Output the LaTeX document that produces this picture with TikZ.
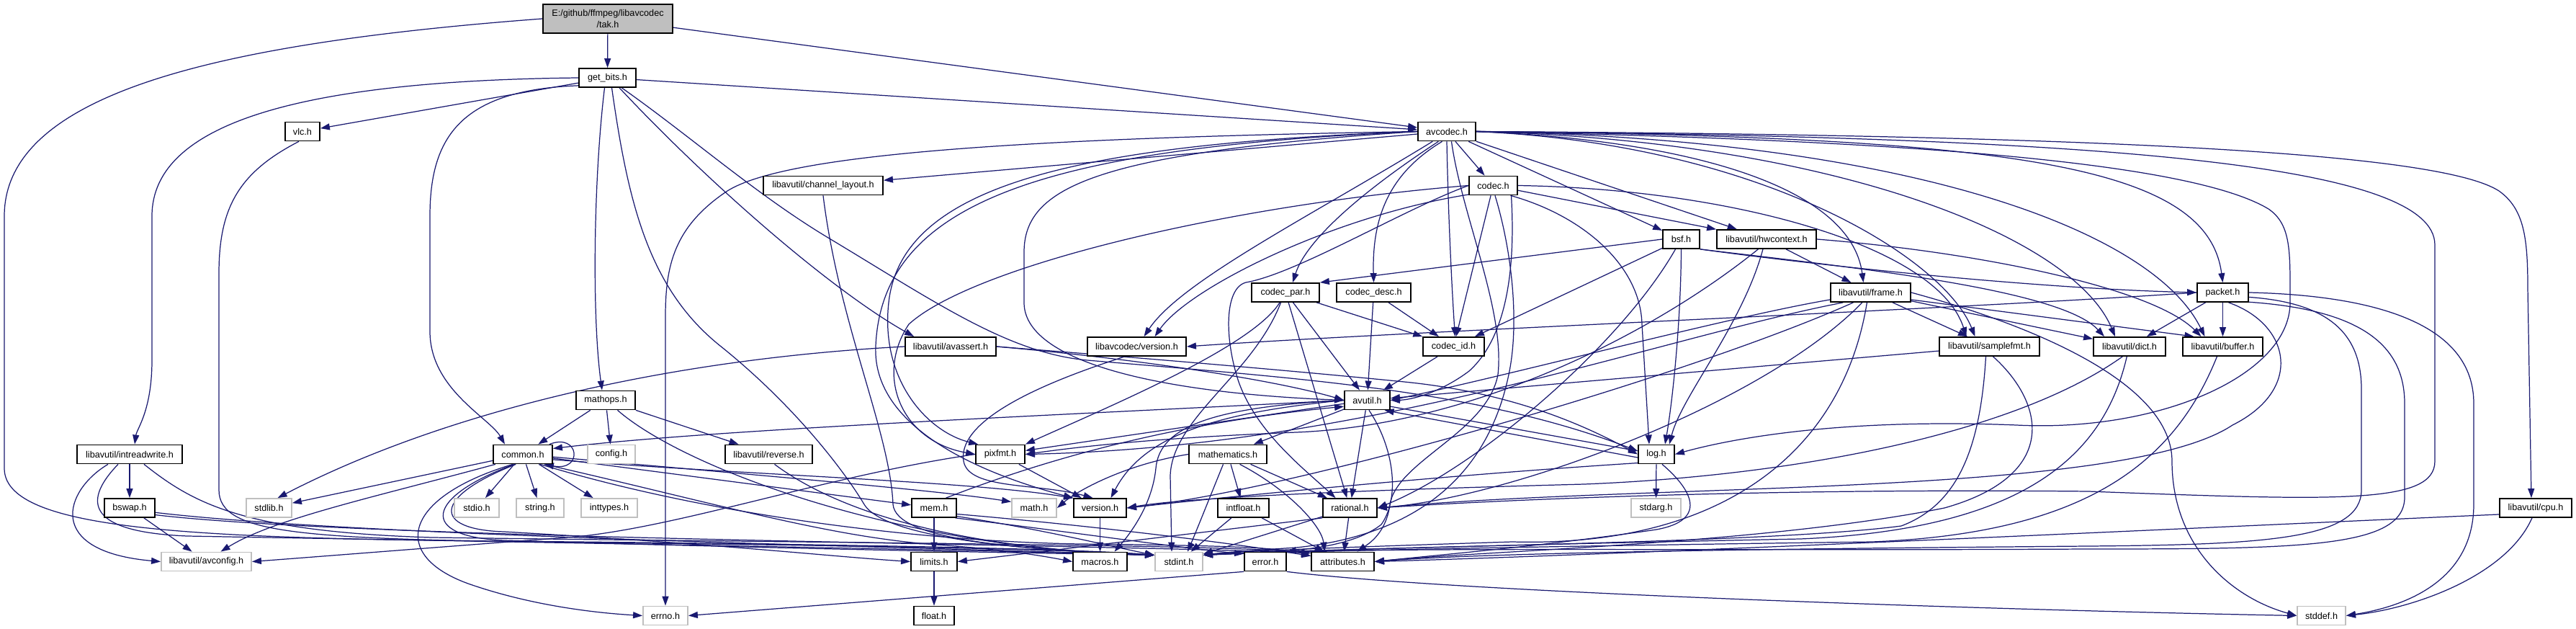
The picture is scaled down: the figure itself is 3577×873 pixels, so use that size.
\documentclass[tikz,border=0pt]{standalone}
\usepackage{fontspec}
\setmainfont{Liberation Sans}
\usetikzlibrary{arrows.meta}
\definecolor{edgeblue}{HTML}{191970}
\definecolor{extgray}{HTML}{BFBFBF}
\newcommand\nodefont{\fontsize{3.6pt}{4.3pt}\selectfont}
\pgfdeclarelayer{bglayer}
\pgfdeclarelayer{edgelayer}
\pgfsetlayers{bglayer,edgelayer,main}
\begin{document}
\begin{tikzpicture}[x=0.01cm,y=-0.01cm,
  hdr/.style={draw=black,line width=0.5pt,fill=white,minimum height=0.26cm,inner sep=0pt,font=\nodefont},
  sys/.style={draw=extgray,line width=0.5pt,fill=white,minimum height=0.26cm,inner sep=0pt,font=\nodefont},
  arr/.style={draw=edgeblue,line width=0.35pt,-{Triangle[length=0.13cm,width=0.09cm]}}]
\begin{pgfonlayer}{bglayer}
\fill[white] (0,0) rectangle (3577,873);
\end{pgfonlayer}
\useasboundingbox (0,0) rectangle (3577,873);

% ---------------- nodes ----------------
\node[hdr,fill=extgray,minimum width=1.8cm,minimum height=0.40cm,align=center] (tak) at (844,26) {E:/github/ffmpeg/libavcodec\\/tak.h};
\node[hdr,minimum width=0.79cm] (getbits) at (843.5,108) {get\_bits.h};
\node[hdr,minimum width=0.48cm] (vlc) at (420,182.5) {vlc.h};
\node[hdr,minimum width=0.80cm] (avcodec) at (2009,182.5) {avcodec.h};
\node[hdr,minimum width=1.66cm] (chlayout) at (1143,257.5) {libavutil/channel\_layout.h};
\node[hdr,minimum width=0.67cm] (codec) at (2073.5,257.5) {codec.h};
\node[hdr,minimum width=0.51cm] (bsf) at (2334.5,332) {bsf.h};
\node[hdr,minimum width=1.38cm] (hwctx) at (2453,332) {libavutil/hwcontext.h};
\node[hdr,minimum width=0.94cm] (codecpar) at (1785,406) {codec\_par.h};
\node[hdr,minimum width=1.03cm] (codecdesc) at (1907.5,406) {codec\_desc.h};
\node[hdr,minimum width=1.11cm] (frame) at (2597.5,406) {libavutil/frame.h};
\node[hdr,minimum width=0.71cm] (packet) at (3086.5,406) {packet.h};
\node[hdr,minimum width=1.26cm] (avassert) at (1320,481) {libavutil/avassert.h};
\node[hdr,minimum width=1.37cm] (lavcver) at (1578.5,481) {libavcodec/version.h};
\node[hdr,minimum width=0.85cm] (codecid) at (2018.5,481) {codec\_id.h};
\node[hdr,minimum width=1.39cm] (samplefmt) at (2762.5,481) {libavutil/samplefmt.h};
\node[hdr,minimum width=1.00cm] (dict) at (2957,481) {libavutil/dict.h};
\node[hdr,minimum width=1.11cm] (buffer) at (3086.5,481) {libavutil/buffer.h};
\node[hdr,minimum width=0.82cm] (mathops) at (841,555.5) {mathops.h};
\node[hdr,minimum width=0.63cm] (avutil) at (1898.5,555.5) {avutil.h};
\node[hdr,minimum width=1.46cm] (intrw) at (180,630.5) {libavutil/intreadwrite.h};
\node[hdr,minimum width=0.82cm] (common) at (726,630.5) {common.h};
\node[sys,minimum width=0.66cm] (config) at (849,630.5) {config.h};
\node[hdr,minimum width=1.21cm] (reverse) at (1067.5,630.5) {libavutil/reverse.h};
\node[hdr,minimum width=0.68cm] (pixfmt) at (1389,630.5) {pixfmt.h};
\node[hdr,minimum width=1.08cm] (mathematics) at (1705,630.5) {mathematics.h};
\node[hdr,minimum width=0.50cm] (logh) at (2300,630.5) {log.h};
\node[hdr,minimum width=0.70cm] (bswap) at (180,705) {bswap.h};
\node[sys,minimum width=0.63cm] (stdlib) at (373.5,705) {stdlib.h};
\node[sys,minimum width=0.62cm] (stdio) at (662,705) {stdio.h};
\node[sys,minimum width=0.66cm] (stringh) at (750,705) {string.h};
\node[sys,minimum width=0.78cm] (inttypes) at (846,705) {inttypes.h};
\node[hdr,minimum width=0.62cm] (mem) at (1297,705) {mem.h};
\node[sys,minimum width=0.62cm] (mathh) at (1436,705) {math.h};
\node[hdr,minimum width=0.73cm] (version) at (1527.5,705) {version.h};
\node[hdr,minimum width=0.71cm] (intfloat) at (1726.5,705) {intfloat.h};
\node[hdr,minimum width=0.75cm] (rational) at (1874.5,705) {rational.h};
\node[sys,minimum width=0.69cm] (stdarg) at (2299.5,705) {stdarg.h};
\node[hdr,minimum width=1.00cm] (cpu) at (3521,705) {libavutil/cpu.h};
\node[sys,minimum width=1.25cm] (avconfig) at (286.5,779.5) {libavutil/avconfig.h};
\node[hdr,minimum width=0.64cm] (limits) at (1297,779.5) {limits.h};
\node[hdr,minimum width=0.75cm] (macros) at (1527.5,779.5) {macros.h};
\node[sys,minimum width=0.66cm] (stdint) at (1637,779.5) {stdint.h};
\node[hdr,minimum width=0.58cm] (error) at (1757,779.5) {error.h};
\node[hdr,minimum width=0.87cm] (attributes) at (1864.5,779.5) {attributes.h};
\node[sys,minimum width=0.62cm] (errno) at (924,854.5) {errno.h};
\node[hdr,minimum width=0.56cm] (floath) at (1297,854.5) {float.h};
\node[sys,minimum width=0.67cm] (stddef) at (3223.5,854.5) {stddef.h};

% ---------------- edges ----------------
\begin{pgfonlayer}{edgelayer}
% tak.h
\draw[arr] (tak) -- (getbits);
\draw[arr] (tak) -- (avcodec);
\draw[arr] (tak.west) .. controls (300,60) and (6,130) .. (6,300) -- (6,650) .. controls (6,742) and (300,748) .. (800,752) .. controls (1200,756) and (1500,762) .. (stdint.165);
% get_bits.h
\draw[arr] (getbits) -- (vlc);
\draw[arr] (getbits.west) .. controls (420,112) and (211,170) .. (211,300) -- (211,500) .. controls (211,570) and (190,595) .. ([xshift=0.07cm]intrw.north);
\draw[arr] (getbits.195) .. controls (640,125) and (597,190) .. (597,300) -- (597,460) .. controls (597,540) and (680,580) .. ([xshift=-0.25cm]common.north);
\draw[arr] ([xshift=-0.04cm]getbits.south) .. controls (824,250) and (822,440) .. ([xshift=-0.05cm]mathops.north);
\draw[arr] ([xshift=0.06cm]getbits.south) .. controls (872,280) and (900,400) .. (1000,480) .. controls (1100,560) and (1170,650) .. (1200,700) .. controls (1230,750) and (1450,765) .. (stdint.165);
\draw[arr] (getbits.-40) .. controls (980,250) and (1150,400) .. ([xshift=0.13cm]avassert.north west);
\draw[arr] (getbits.-35) .. controls (960,190) and (1050,270) .. (1150,330) .. controls (1300,420) and (1400,490) .. (1510,500) .. controls (1800,525) and (2050,540) .. (logh.170);
\draw[arr] (getbits) -- (avcodec);
% vlc.h
\draw[arr] (vlc.250) .. controls (330,240) and (304,290) .. (304,380) -- (304,680) .. controls (304,742) and (420,748) .. (800,753) .. controls (1200,757) and (1500,763) .. (stdint.165);
% avcodec.h
\draw[arr] (avcodec.west) .. controls (1400,192) and (1090,215) .. (1010,265) .. controls (935,315) and (924,370) .. (924,440) -- (errno.north);
\draw[arr] (avcodec) -- (chlayout);
\draw[arr] (avcodec.west) .. controls (1500,200) and (1252,255) .. (1234,420) .. controls (1222,530) and (1290,600) .. ([xshift=0.04cm]pixfmt.north west);
\draw[arr] (avcodec.west) .. controls (1450,205) and (1225,280) .. (1216,480) .. controls (1210,600) and (1380,662) .. (version.north west);
\draw[arr] (avcodec.west) .. controls (1520,212) and (1422,260) .. (1422,350) -- (1422,420) .. controls (1422,500) and (1600,545) .. (avutil.west);
\draw[arr] (avcodec.230) .. controls (1900,260) and (1815,330) .. ([xshift=0.1cm]codecpar.north);
\draw[arr] (avcodec.245) .. controls (1930,240) and (1905,300) .. (codecdesc.north);
\draw[arr] (avcodec.south) .. controls (2011,300) and (2016,400) .. ([xshift=0.02cm]codecid.north);
\draw[arr] (avcodec) -- (codec);
\draw[arr] (avcodec) -- (bsf);
\draw[arr] (avcodec) -- (hwctx);
\draw[arr] (avcodec.215) .. controls (1820,300) and (1640,390) .. ([xshift=0.1cm]lavcver.north);
\draw[arr] (avcodec.east) .. controls (2350,195) and (2570,260) .. ([xshift=-0.1cm]frame.north);
\draw[arr] (avcodec.east) .. controls (2800,190) and (3065,230) .. (packet.north);
\draw[arr] (avcodec.east) .. controls (2700,195) and (3050,230) .. (3150,290) .. controls (3182,312) and (3180,350) .. (3180,420) .. controls (3180,520) and (3000,600) .. (2800,590) .. controls (2550,580) and (2400,610) .. (logh.east);
\draw[arr] (avcodec.east) .. controls (2950,190) and (3381,230) .. (3381,340) -- (3381,640) .. controls (3381,700) and (3250,695) .. (2900,682) .. controls (2500,678) and (2150,690) .. (rational.east);
\draw[arr] (avcodec.east) .. controls (3050,188) and (3400,220) .. (3470,265) .. controls (3505,290) and (3510,330) .. (3510,400) -- ([xshift=-0.06cm]cpu.north);
\draw[arr] (avcodec.east) .. controls (2450,200) and (2700,360) .. ([xshift=-0.2cm]samplefmt.north);
\draw[arr] (avcodec.east) .. controls (2550,195) and (2880,330) .. ([xshift=-0.2cm]dict.north);
\draw[arr] (avcodec.east) .. controls (2650,192) and (2990,320) .. ([xshift=-0.25cm]buffer.north);
\draw[arr] (avcodec.-65) .. controls (2030,300) and (2090,430) .. (2080,520) .. controls (2065,600) and (1940,640) .. (1930,700) .. controls (1925,740) and (1900,755) .. ([xshift=0.2cm]attributes.north);
% channel_layout.h
\draw[arr] (chlayout.south) .. controls (1165,450) and (1236,600) .. (1240,700) .. controls (1244,748) and (1400,762) .. (stdint.165);
% codec.h
\draw[arr] (codec) -- (codecid);
\draw[arr] (codec) -- (hwctx);
\draw[arr] (codec.-30) .. controls (2200,300) and (2278,370) .. (2280,450) -- ([xshift=-0.1cm]logh.north);
\draw[arr] (codec.west) .. controls (1700,285) and (1350,370) .. (1262,450) .. controls (1215,520) and (1250,612) .. (pixfmt.west);
\draw[arr] (codec.200) .. controls (1850,300) and (1650,400) .. ([xshift=0.25cm]lavcver.north);
\draw[arr] (codec.east) .. controls (2400,262) and (2690,340) .. ([xshift=-0.32cm]samplefmt.north);
\draw[arr] (codec.west) .. controls (1950,290) and (1800,380) .. (1730,392) .. controls (1700,400) and (1700,470) .. (1720,530) .. controls (1745,600) and (1810,650) .. ([xshift=-0.2cm]rational.north);
\draw[arr] (codec.-80) .. controls (2100,350) and (2110,450) .. (2095,520) .. controls (2070,640) and (1990,740) .. (1800,760) .. controls (1720,765) and (1690,768) .. (stdint.15);
\draw[arr] ([xshift=0.25cm]codec.south) .. controls (2105,380) and (2090,470) .. (2040,515) .. controls (2000,545) and (1960,555) .. (avutil.east);
% bsf.h
\draw[arr] (bsf.west) -- (codecpar.north east);
\draw[arr] (bsf) -- (codecid);
\draw[arr] (bsf.south) .. controls (2334,450) and (2322,560) .. ([xshift=0.12cm]logh.north);
\draw[arr] (bsf.south east) .. controls (2500,365) and (2810,400) .. (packet.west);
\draw[arr] (bsf.south east) .. controls (2560,370) and (2860,400) .. ([xshift=-0.35cm]dict.north);
\draw[arr] (bsf.-120) .. controls (2250,480) and (2050,650) .. (rational.east);
% hwcontext.h
\draw[arr] (hwctx) -- (frame);
\draw[arr] (hwctx.east) .. controls (2750,350) and (2990,400) .. ([xshift=-0.3cm]buffer.north);
\draw[arr] (hwctx.-110) .. controls (2420,450) and (2335,550) .. ([xshift=0.18cm]logh.north);
\draw[arr] (hwctx.-130) .. controls (2300,460) and (2050,590) .. (1800,600) .. controls (1600,608) and (1500,620) .. (pixfmt.east);
% codec_par.h
\draw[arr] (codecpar.-120) .. controls (1740,480) and (1550,560) .. (pixfmt.north east);
\draw[arr] (codecpar) -- (codecid);
\draw[arr] (codecpar) -- (avutil);
\draw[arr] (codecpar) -- (rational);
\draw[arr] (codecpar.-115) .. controls (1740,520) and (1628,580) .. (1625,660) -- ([xshift=-0.1cm]stdint.north);
% codec_desc.h
\draw[arr] (codecdesc) -- (avutil);
\draw[arr] (codecdesc) -- (codecid);
% frame.h
\draw[arr] (frame) -- (samplefmt);
\draw[arr] (frame) -- (dict);
\draw[arr] (frame.-10) -- ([xshift=-0.4cm]buffer.north);
\draw[arr] (frame.east) .. controls (2780,440) and (3016,520) .. (3016,640) .. controls (3016,760) and (3100,830) .. (stddef.west);
\draw[arr] (frame.190) .. controls (2400,440) and (2100,520) .. (avutil.east);
\draw[arr] (frame.200) .. controls (2300,470) and (1900,620) .. (pixfmt.east);
\draw[arr] (frame.210) .. controls (2350,520) and (1800,680) .. (version.east);
\draw[arr] (frame.230) .. controls (2450,560) and (2100,690) .. (rational.east);
\draw[arr] (frame.250) .. controls (2560,620) and (2400,760) .. (2100,752) .. controls (1850,760) and (1720,765) .. (stdint.15);
% packet.h
\draw[arr] (packet) -- (buffer);
\draw[arr] (packet) -- (dict);
\draw[arr] (packet.west) .. controls (2700,430) and (1950,460) .. (lavcver.east);
\draw[arr] (packet.east) .. controls (3300,410) and (3435,450) .. (3435,560) -- (3435,700) .. controls (3435,800) and (3350,840) .. (stddef.east);
\draw[arr] (packet.-10) .. controls (3230,420) and (3279,460) .. (3279,540) -- (3279,680) .. controls (3279,748) and (3150,756) .. (2900,758) .. controls (2400,762) and (2050,768) .. (attributes.east);
\draw[arr] (packet.-20) .. controls (3280,430) and (3339,480) .. (3339,560) -- (3339,690) .. controls (3339,760) and (3200,762) .. (2900,762) .. controls (2300,765) and (1900,758) .. (stdint.15);
\draw[arr] (packet.-60) .. controls (3180,450) and (3200,540) .. (3100,590) .. controls (2950,690) and (2300,670) .. (rational.east);
% avassert.h
\draw[arr] (avassert.west) .. controls (900,500) and (600,580) .. ([xshift=0.12cm]stdlib.north);
\draw[arr] (avassert.east) .. controls (1600,500) and (1780,530) .. (avutil.west);
\draw[arr] (avassert.east) .. controls (1600,498) and (1800,515) .. (1950,530) .. controls (2100,545) and (2200,590) .. (logh.west);
% libavcodec/version.h
\draw[arr] (lavcver.220) .. controls (1420,540) and (1330,590) .. (1338,640) .. controls (1345,680) and (1440,670) .. ([xshift=-0.1cm]version.north);
% codec_id.h
\draw[arr] (codecid) -- (avutil);
% samplefmt.h
\draw[arr] (samplefmt) -- (avutil);
\draw[arr] ([xshift=-0.05cm]samplefmt.south) .. controls (2750,620) and (2720,700) .. (2640,730) .. controls (2450,755) and (1900,758) .. (stdint.15);
\draw[arr] (samplefmt.-70) .. controls (2840,560) and (2860,660) .. (2700,705) .. controls (2450,755) and (2050,765) .. (attributes.east);
% dict.h
\draw[arr] (dict.235) .. controls (2800,600) and (2500,660) .. (2200,672) .. controls (1900,680) and (1650,690) .. (version.east);
\draw[arr] (dict.255) .. controls (2920,640) and (2800,735) .. (2500,748) .. controls (2100,756) and (1800,764) .. (stdint.15);
% buffer.h
\draw[arr] (buffer.240) .. controls (3020,640) and (2900,740) .. (2600,752) .. controls (2150,758) and (1800,765) .. (stdint.15);
% mathops.h
\draw[arr] (mathops) -- (common);
\draw[arr] (mathops) -- (config);
\draw[arr] (mathops) -- (reverse);
\draw[arr] (mathops.-40) .. controls (950,650) and (1250,762) .. (stdint.165);
% avutil.h
\draw[arr] (avutil.west) .. controls (1500,575) and (1000,595) .. ([yshift=0.08cm]common.east);
\draw[arr] (avutil.-15) -- (logh.170);
\draw[arr] (logh.190) -- (avutil.-30);
\draw[arr] (avutil) -- (mathematics);
\draw[arr] (avutil) -- (pixfmt);
\draw[arr] (avutil) -- (rational);
\draw[arr] (avutil.west) .. controls (1700,572) and (1590,600) .. ([xshift=0.15cm]version.north);
\draw[arr] (avutil.west) .. controls (1690,565) and (1610,590) .. (1605,650) .. controls (1600,700) and (1570,740) .. ([xshift=0.2cm]macros.north);
\draw[arr] (avutil.-80) .. controls (1935,620) and (1945,690) .. (1918,728) .. controls (1880,758) and (1810,762) .. (error.north east);
% intreadwrite.h
\draw[arr] (intrw) -- (bswap);
\draw[arr] ([xshift=-0.3cm]intrw.south) .. controls (90,680) and (60,765) .. (avconfig.west);
\draw[arr] ([xshift=-0.16cm]intrw.south) .. controls (120,690) and (110,738) .. (260,744) .. controls (700,752) and (1300,762) .. (stdint.165);
\draw[arr] ([xshift=0.2cm]intrw.south) .. controls (270,700) and (340,738) .. (600,746) .. controls (1200,754) and (1700,756) .. (attributes.165);
% bswap.h
\draw[arr] (bswap) -- (avconfig);
\draw[arr] (bswap.-10) .. controls (500,745) and (1300,760) .. (stdint.165);
\draw[arr] (bswap.-15) .. controls (500,748) and (1500,755) .. (attributes.165);
% common.h
\draw[arr] (common) -- (stdio);
\draw[arr] (common) -- (stringh);
\draw[arr] (common) -- (inttypes);
\draw[arr] (common) -- (stdlib);
\draw[arr] (common.200) .. controls (520,690) and (380,720) .. ([xshift=0.2cm]avconfig.north);
\draw[arr] (common.225) .. controls (560,690) and (540,770) .. (650,810) .. controls (750,845) and (850,852) .. (errno.west);
\draw[arr] (common.235) .. controls (600,690) and (600,735) .. (700,738) .. controls (1000,755) and (1150,772) .. (limits.west);
\draw[arr] (common.230) .. controls (590,690) and (580,745) .. (700,750) .. controls (1100,762) and (1450,768) .. (stdint.165);
\draw[arr] (common.-5) .. controls (1000,655) and (1300,680) .. (mathh.165);
\draw[arr] (common.-10) .. controls (1050,660) and (1350,668) .. (version.160);
\draw[arr] (common) -- (mem);
\draw[arr] (common.-25) .. controls (1000,700) and (1150,745) .. (1300,756) .. controls (1400,763) and (1450,772) .. (macros.west);
\draw[arr] (common.-30) .. controls (1000,720) and (1300,752) .. (1500,755) .. controls (1700,757) and (1780,760) .. (attributes.170);
\draw[arr] ([xshift=-0.05cm]common.north east) .. controls (805,600) and (810,655) .. ([xshift=-0.12cm]common.south east);
% reverse.h
\draw[arr] (reverse.-60) .. controls (1150,700) and (1300,760) .. (stdint.165);
% pixfmt.h
\draw[arr] (pixfmt.west) .. controls (1150,660) and (950,730) .. (800,745) .. controls (600,760) and (450,772) .. (avconfig.east);
\draw[arr] (pixfmt) -- (version);
% mathematics.h
\draw[arr] (mathematics) -- (intfloat);
\draw[arr] (mathematics) -- (rational);
\draw[arr] (mathematics.-115) .. controls (1680,690) and (1660,740) .. ([xshift=0.12cm]stdint.north);
\draw[arr] (mathematics.-40) .. controls (1790,680) and (1835,730) .. ([xshift=-0.25cm]attributes.north);
\draw[arr] (mathematics.west) .. controls (1560,645) and (1495,682) .. (mathh.east);
% log.h
\draw[arr] (logh) -- (stdarg);
\draw[arr] (logh.-60) .. controls (2350,680) and (2372,722) .. (2300,735) .. controls (2150,757) and (2000,770) .. (attributes.east);
\draw[arr] (logh.205) .. controls (2000,660) and (1700,690) .. (version.east);
% mem.h
\draw[arr] (mem) -- (limits);
\draw[arr] (mem.40) .. controls (1420,650) and (1600,590) .. (avutil.195);
\draw[arr] (mem.-20) .. controls (1450,735) and (1550,760) .. (stdint.165);
\draw[arr] (mem.-15) .. controls (1500,728) and (1700,752) .. (attributes.170);
\draw[arr] (mem.-25) .. controls (1500,740) and (1650,762) .. (error.160);
% intfloat.h, rational.h, version.h
\draw[arr] (intfloat) -- (stdint);
\draw[arr] (intfloat) -- (attributes);
\draw[arr] (rational) -- (stdint);
\draw[arr] (rational) -- (attributes);
\draw[arr] (rational.south west) -- (limits.east);
\draw[arr] (version) -- (macros);
% error.h
\draw[arr] (error.south west) -- (errno.east);
\draw[arr] (error.south east) .. controls (2000,820) and (2700,845) .. (stddef.west);
% cpu.h
\draw[arr] (cpu.190) .. controls (3000,735) and (2300,768) .. (attributes.east);
\draw[arr] (cpu.-110) .. controls (3480,800) and (3350,845) .. (stddef.east);
% limits.h
\draw[arr] (limits) -- (floath);
\end{pgfonlayer}
\end{tikzpicture}
\end{document}
